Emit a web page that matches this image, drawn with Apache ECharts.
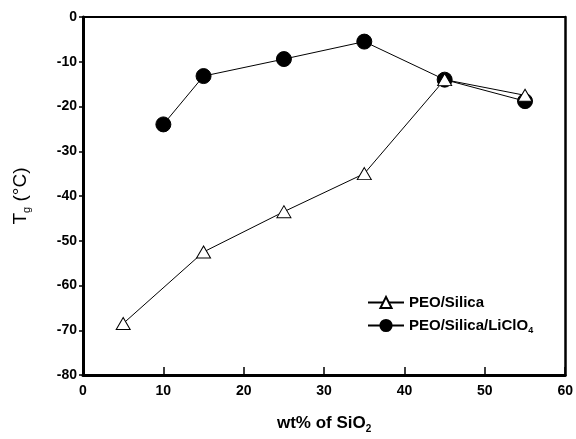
<!DOCTYPE html>
<html>
<head>
<meta charset="utf-8">
<script src="https://cdn.jsdelivr.net/npm/echarts@6/dist/echarts.min.js"></script>
<style>
  html, body { margin: 0; padding: 0; background: #fff; }
  #main { width: 576px; height: 439px; }
</style>
</head>
<body>
<div id="main"></div>
<script>
// wt% SiO2
var silicaX = [5, 15, 25, 35, 45, 55]
var silicaTg = [-68.5, -52.5, -43.5, -35, -14, -17.5]
var saltX = [10, 15, 25, 35, 45, 55]
var saltTg = [-24, -13.2, -9.4, -5.5, -14, -18.8]
var xTicks = [0, 10, 20, 30, 40, 50, 60]
var yTicks = [0, -10, -20, -30, -40, -50, -60, -70, -80]

function pairs(xs, ys) {
    var out = []
    for (var i = 0; i < xs.length; i++) {
        out.push([xs[i], ys[i]])
    }
    return out
}

var font = 'Liberation Sans, Arial, sans-serif'
var labelStyle = { fontFamily: font, fontWeight: 'bold', fontSize: 14, color: '#000' }

// extra axes only draw the top/right frame
var frameX = {
    type: 'value', position: 'top', min: 0, max: 60,
    axisLine: { onZero: false, lineStyle: { color: '#000', width: 2 } },
    axisTick: { show: false }, axisLabel: { show: false }, splitLine: { show: false }
}
var frameY = {
    type: 'value', position: 'right', min: -80, max: 0,
    axisLine: { onZero: false, lineStyle: { color: '#000', width: 2.5 } },
    axisTick: { show: false }, axisLabel: { show: false }, splitLine: { show: false }
}

var myChart = echarts.init(document.getElementById('main'));
myChart.setOption({
    animation: false,
    backgroundColor: '#fff',
    grid: { left: 83, top: 17, right: 7, bottom: 62 },
    legend: {
        left: 362, top: 290,
        orient: 'vertical',
        itemWidth: 36, itemHeight: 14, itemGap: 8,
        data: ['PEO/Silica', 'PEO/Silica/LiClO4'],
        formatter: function (name) {
            return name === 'PEO/Silica/LiClO4' ? 'PEO/Silica/LiClO{sub|4}' : name
        },
        textStyle: {
            fontFamily: font, fontWeight: 'bold', fontSize: 15, color: '#000',
            rich: {
                sub: { fontFamily: font, fontWeight: 'bold', fontSize: 9, color: '#000', padding: [10, 0, 0, 0] }
            }
        }
    },
    xAxis: [{
        type: 'value', min: xTicks[0], max: xTicks[xTicks.length - 1], interval: 10,
        name: 'wt% of SiO{sub|2}',
        nameLocation: 'middle', nameGap: 38,
        nameTextStyle: {
            fontFamily: font, fontWeight: 'bold', fontSize: 17, color: '#000',
            rich: {
                sub: { fontFamily: font, fontWeight: 'bold', fontSize: 10, color: '#000', padding: [11, 0, 0, 0] }
            }
        },
        splitLine: { show: false },
        axisLine: { onZero: false, lineStyle: { color: '#000', width: 3 } },
        axisTick: { inside: true, length: 8, lineStyle: { color: '#000', width: 1.5 } },
        axisLabel: Object.assign({ margin: 9 }, labelStyle)
    }, frameX],
    yAxis: [{
        type: 'value', min: yTicks[yTicks.length - 1], max: yTicks[0], interval: 10,
        name: 'T{sub|g} (°C)',
        nameLocation: 'middle', nameGap: 51, nameRotate: 90,
        nameTextStyle: {
            fontFamily: font, fontSize: 19, color: '#000',
            rich: {
                sub: { fontFamily: font, fontSize: 11, color: '#000', padding: [12, 0, 0, 0] }
            }
        },
        splitLine: { show: false },
        axisLine: { onZero: false, lineStyle: { color: '#000', width: 3 } },
        axisTick: { inside: false, length: 4, lineStyle: { color: '#000', width: 1.5 } },
        axisLabel: Object.assign({ margin: 6 }, labelStyle)
    }, frameY],
    series: [{
        name: 'PEO/Silica',
        type: 'line',
        data: pairs(silicaX, silicaTg),
        symbol: 'triangle',
        symbolSize: [14, 12],
        showAllSymbol: true,
        lineStyle: { color: '#000', width: 1 },
        itemStyle: { color: '#fff', borderColor: '#000', borderWidth: 1 },
        z: 3
    }, {
        name: 'PEO/Silica/LiClO4',
        type: 'line',
        data: pairs(saltX, saltTg),
        symbol: 'circle',
        symbolSize: 15,
        lineStyle: { color: '#000', width: 1 },
        itemStyle: { color: '#000', borderColor: '#000', borderWidth: 1 },
        z: 2
    }]
});
</script>
</body>
</html>
